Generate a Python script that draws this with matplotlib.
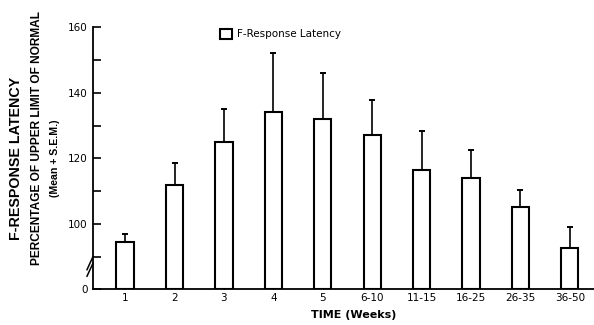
import matplotlib
matplotlib.use("Agg")
import matplotlib.pyplot as plt

plt.rcParams["font.family"] = ["DejaVu Sans"]
label_font = ["Liberation Sans", "DejaVu Sans"]

# data (percentage of upper limit of normal)
weeks = ["1", "2", "3", "4", "5", "6-10", "11-15", "16-25", "26-35", "36-50"]
latency_mean = [94.5, 112, 125, 134, 132, 127, 116.3, 114.1, 105.1, 92.6]
latency_upper = [97, 118.6, 135.2, 152.2, 146.1, 137.9, 128.2, 122.5, 110.4, 99]

y_ticks = [80, 100, 120, 140, 160]
y_tick_labels = ["0", "100", "120", "140", "160"]
y_minor = [90, 110, 130, 150]

base = 80  # axis is broken: bottom of the axis stands for 0

fig = plt.figure(figsize=(5.94, 3.25), dpi=100)
ax = fig.add_axes([0.1566, 0.1098, 0.8434, 0.8062])

x = list(range(len(weeks)))
heights = [m - base for m in latency_mean]
sem = [u - m for u, m in zip(latency_upper, latency_mean)]
ax.bar(x, heights, bottom=base, width=0.35, color="white", edgecolor="black",
       linewidth=1.5, label="F-Response Latency", zorder=2)
ax.errorbar(x, latency_mean, yerr=[[0] * len(sem), sem], fmt="none",
            ecolor="black", elinewidth=1.2, capsize=2.5, capthick=1.4, zorder=1)

ax.set_ylim(base, 160)
ax.set_xlim(-0.65, 9.49)
ax.set_yticks(y_ticks)
ax.set_yticklabels(y_tick_labels, fontsize=7.5)
ax.set_yticks(y_minor, minor=True)
ax.set_xticks(x)
ax.set_xticklabels(weeks, fontsize=7.5)
ax.tick_params(axis="y", which="both", direction="in", length=6, width=1.2, pad=4)
ax.tick_params(axis="x", direction="in", length=3, width=1, pad=3)

for side in ["top", "right"]:
    ax.spines[side].set_visible(False)
for side in ["left", "bottom"]:
    ax.spines[side].set_linewidth(1.3)

# axis-break slashes on the y axis
for dy in [0.0, 0.025]:
    ax.plot([-0.012, 0.0], [0.05 + dy, 0.1 + dy], transform=ax.transAxes,
            color="black", lw=1.1, clip_on=False)

ax.set_xlabel("TIME (Weeks)", fontsize=8, fontweight="bold")
ax.xaxis.set_label_coords(0.52, -0.08)

fig.text(0.027, 0.514, "F-RESPONSE LATENCY", rotation=90, ha="center",
         va="center", fontsize=10.3, fontweight="bold", family=label_font)
fig.text(0.062, 0.575, "PERCENTAGE OF UPPER LIMIT OF NORMAL", rotation=90,
         ha="center", va="center", fontsize=8.6, fontweight="bold",
         family=label_font)
fig.text(0.092, 0.514, "(Mean + S.E.M.)", rotation=90, ha="center",
         va="center", fontsize=7.6, fontweight="bold", family=label_font)

ax.legend(loc="upper left", bbox_to_anchor=(0.235, 1.03), frameon=False,
          handlelength=1.1, handleheight=1.1, handletextpad=0.5, fontsize=7.5)

fig.savefig("out.png", dpi=100)
